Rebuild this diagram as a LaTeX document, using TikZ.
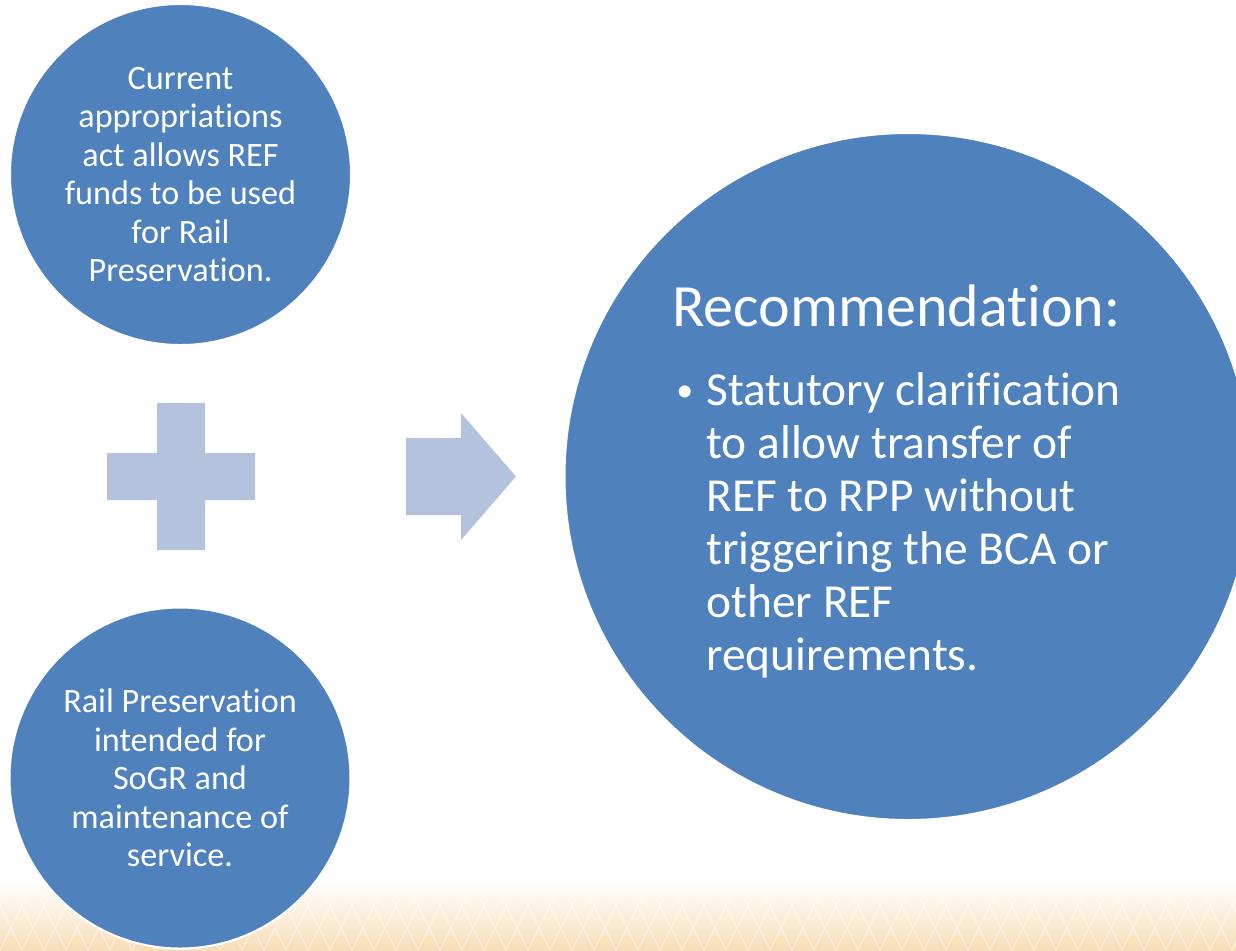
\documentclass[tikz,border=0pt]{standalone}
\usepackage{fontspec}
\setmainfont{Carlito}[Ligatures=NoCommon]
\usetikzlibrary{positioning}

\definecolor{discblue}{RGB}{79,129,189}
\definecolor{signblue}{RGB}{179,194,221}
\definecolor{sand}{RGB}{247,221,183}

\begin{document}
\begin{tikzpicture}[
  x=0.5pt, y=-0.5pt,
  every node/.style={text=white, align=center, inner sep=0pt},
  disc/.style={circle, fill=discblue, draw=white, line width=1pt},
  smalldisc/.style={disc, minimum size=170.5pt,
    font=\fontsize{17.1}{19.2}\selectfont},
  bigdisc/.style={disc, minimum size=343.5pt},
  sign/.style={fill=signblue}
]
  \useasboundingbox (0,0) rectangle (1236,950);
  \clip (0,0) rectangle (1236,950);

  % sandy band with a light lattice along the bottom
  \shade[top color=white, bottom color=sand] (0,882) rectangle (1236,950);
  \foreach \x in {-66,-44,...,1320}
    \draw[white, opacity=0.45, line width=0.6pt]
      (\x,950) -- ++(33,-66) (\x,950) -- ++(-33,-66);

  \node[smalldisc] (cur) at (180.5,174.5)
    {Current\\appropriations\\act allows REF\\funds to be used\\for Rail\\Preservation.};
  \node[smalldisc] (rail) at (180,778)
    {Rail Preservation\\intended for\\SoGR and\\maintenance of\\service.};

  % plus sign and arrow
  \fill[sign] (157,403) -- (205,403) -- (205,453) -- (255,453) -- (255,500)
    -- (205,500) -- (205,550) -- (157,550) -- (157,500) -- (107,500)
    -- (107,453) -- (157,453) -- cycle;
  \fill[sign] (406,438) -- (461,438) -- (461,413) -- (516,476.5)
    -- (461,540) -- (461,515) -- (406,515) -- cycle;

  \node[bigdisc] (rec) at (908,476.5) {};
  \node[anchor=base west, font=\fontsize{30}{36}\selectfont]
    (recTitle) at (672,326) {Recommendation:};
  \node[anchor=base west, font=\fontsize{17}{20}\selectfont]
    (recDot) at (676,401) {\textbullet};
  \node[anchor=north west, align=left, font=\fontsize{23.7}{26.5}\selectfont]
    (recBody) at (706,372)
    {Statutory clarification\\to allow transfer of\\REF to RPP without\\triggering the BCA or\\other REF\\requirements.};
\end{tikzpicture}
\end{document}
